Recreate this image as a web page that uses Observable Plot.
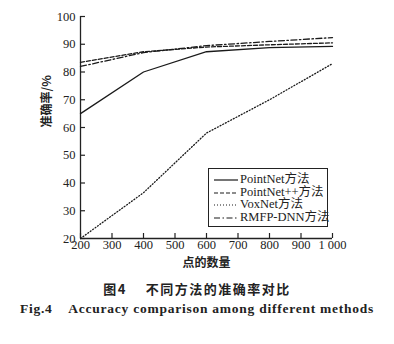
<!DOCTYPE html>
<html><head><meta charset="utf-8">
<script src="https://cdn.jsdelivr.net/npm/d3@7"></script>
<script src="https://cdn.jsdelivr.net/npm/@observablehq/plot@0.6"></script>
<style>
body{margin:0;background:#fff;}
#wrap{position:relative;width:394px;}
.cap1{font-family:"Noto Sans CJK SC",sans-serif;font-weight:bold;font-size:13px;line-height:16px;text-align:center;color:#222;margin-top:9px;letter-spacing:1.5px;white-space:pre;}
.cap2{font-family:"Liberation Serif",serif;font-weight:bold;font-size:13.5px;line-height:16px;text-align:center;color:#222;margin-top:4px;letter-spacing:0.75px;white-space:pre;}
#legend{position:absolute;left:208px;top:168px;width:120px;height:59px;border:1px solid #222;background:#fff;box-sizing:border-box;}
.lrow{position:absolute;left:4px;width:114px;height:12px;white-space:nowrap;}
.lrow svg{position:absolute;left:0;top:0;}
.lrow span{position:absolute;left:27px;top:-1px;font-family:'Liberation Serif','Noto Sans CJK SC',serif;font-size:12.5px;color:#222;line-height:13px;white-space:nowrap;}
</style></head>
<body><div id="wrap"><div id="chart"></div><div id="legend"></div>
<div class="cap1">图4　 不同方法的准确率对比</div>
<div class="cap2">Fig.4    Accuracy comparison among different methods</div></div>
<script>
const points = [200, 400, 600, 800, 1000];
const seriesNames = ["PointNet方法", "PointNet++方法", "VoxNet方法", "RMFP-DNN方法"];
const pointNet = [65, 80, 87.3, 88.8, 89.2];
const pointNetPP = [83.5, 87.3, 89, 89.8, 90.5];
const voxNet = [20, 36.5, 58, 70, 83];
const rmfp = [82, 87, 89.5, 91, 92.4];
const xTicks = [200, 300, 400, 500, 600, 700, 800, 900, 1000];
const yTicks = [20, 30, 40, 50, 60, 70, 80, 90, 100];
const dashes = [null, "4,2", "1,2", "6,2.5,1.5,2.5"];

const allSeries = [pointNet, pointNetPP, voxNet, rmfp];
const data = [];
allSeries.forEach((vals, i) => vals.forEach((v, j) => data.push({name: seriesNames[i], x: points[j], y: v, k: i})));

const W = 394, H = 272, mt = 16, mb = 34, ml = 80, mr = 62;
const fw = W - ml - mr, fh = H - mt - mb;
const serif = "'Liberation Serif','Times New Roman',serif";
const cjk = "'Noto Sans CJK SC',sans-serif";

const marks = [
  Plot.ruleX([200], {stroke: "#222", strokeWidth: 1.3}),
  Plot.ruleY([20], {stroke: "#222", strokeWidth: 1.3}),
  Plot.tickY(yTicks, {y: d => d, insetRight: fw - 5, stroke: "#222", strokeWidth: 1.2}),
  Plot.tickX(xTicks, {x: d => d, insetTop: fh - 5, stroke: "#222", strokeWidth: 1.2}),
  Plot.axisX(xTicks, {tickSize: 0, tickPadding: 2, fontSize: 12.5, fill: "#222", fontFamily: serif,
    tickFormat: d => d === 1000 ? "1 000" : String(d), label: null}),
  Plot.axisY(yTicks, {tickSize: 0, tickPadding: 5, fontSize: 12.5, fill: "#222", fontFamily: serif, label: null}),
  Plot.text(["准确率/%"], {frameAnchor: "left", rotate: -90, dx: -33, fontSize: 12, fill: "#222",
    fontFamily: cjk, fontWeight: 600}),
  Plot.text(["点的数量"], {frameAnchor: "bottom", dy: 25, lineAnchor: "middle", fontSize: 12, fill: "#222",
    fontFamily: cjk, fontWeight: 600}),
];
seriesNames.forEach((n, i) => {
  marks.push(Plot.line(data.filter(d => d.k === i), {x: "x", y: "y", stroke: "#1a1a1a",
    strokeWidth: 1.3, strokeDasharray: dashes[i]}));
});

const chart = Plot.plot({
  width: W, height: H, marginTop: mt, marginBottom: mb, marginLeft: ml, marginRight: mr,
  x: {domain: [200, 1000]}, y: {domain: [20, 100]},
  style: {background: "#fff", color: "#222", fontFamily: serif},
  marks
});
document.getElementById("chart").append(chart);

// legend
const lg = document.getElementById("legend");
const tops = [5, 17.5, 30, 42.5];
seriesNames.forEach((n, i) => {
  const row = document.createElement("div");
  row.className = "lrow";
  row.style.top = tops[i] + "px";
  const sw = `<svg width="26" height="12"><line x1="1" x2="25" y1="6" y2="6" stroke="#1a1a1a" stroke-width="1.2" ${dashes[i] ? `stroke-dasharray="${dashes[i]}"` : ""}/></svg>`;
  row.innerHTML = sw + `<span>${n}</span>`;
  lg.append(row);
});
</script></body></html>
